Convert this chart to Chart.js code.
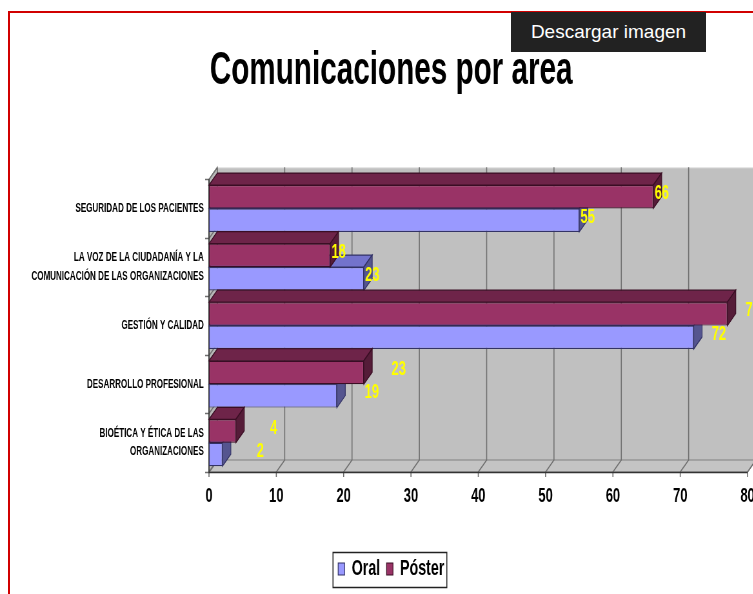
<!DOCTYPE html>
<html>
<head>
<meta charset="utf-8">
<title>Comunicaciones por area</title>
<script src="https://cdn.jsdelivr.net/npm/chart.js@4.4.1/dist/chart.umd.min.js"></script>
<style>
    html, body { margin: 0; padding: 0; background: #fff; overflow: hidden; }
    .frame {
        position: absolute; left: 8px; top: 11px; width: 745px; height: 583px;
        border-left: 2px solid #d10000; border-top: 2px solid #d10000;
    }
    /* the original picture is squeezed sideways, so the chart is drawn wide and scaled down */
    .chart-box {
        position: absolute; left: 0; top: 0; width: 1168px; height: 594px;
        transform: scaleX(0.645); transform-origin: 0 0;
    }
    .download {
        position: absolute; left: 511px; top: 12px; width: 195px; height: 40px;
        background: #222; color: #fff; text-align: center;
        font: 19px 'Liberation Sans', Arial, sans-serif;
        line-height: 40px;
    }
</style>
</head>
<body>
<div class="frame"></div>
<div class="chart-box"><canvas id="areaChart"></canvas></div>
<div class="download">Descargar imagen</div>
<script>
// Data
const areas = [
    ['SEGURIDAD DE LOS PACIENTES'],
    ['LA VOZ DE LA CIUDADANÍA Y LA', 'COMUNICACIÓN DE LAS ORGANIZACIONES'],
    ['GESTIÓN Y CALIDAD'],
    ['DESARROLLO PROFESIONAL'],
    ['BIOÉTICA Y ÉTICA DE LAS', 'ORGANIZACIONES']
];
const oralValues = [55, 23, 72, 19, 2];
const posterValues = [66, 18, 77, 23, 4];
const xTicks = [0, 10, 20, 30, 40, 50, 60, 70, 80];

const font = "'Liberation Sans', Arial, sans-serif";
const DX = 13, DY = 12;

function poly(ctx, pts, fill, stroke) {
    ctx.beginPath();
    ctx.moveTo(pts[0][0], pts[0][1]);
    for (let i = 1; i < pts.length; i++) ctx.lineTo(pts[i][0], pts[i][1]);
    ctx.closePath();
    ctx.fillStyle = fill;
    ctx.fill();
    if (stroke) { ctx.strokeStyle = stroke; ctx.lineWidth = 1.2; ctx.stroke(); }
}

// walls, floor, grid, 3D faces and value labels
const wall3d = {
    id: 'wall3d',
    beforeDatasetsDraw(chart) {
        const { ctx, chartArea: a, scales: { x, y } } = chart;
        ctx.save();
        poly(ctx, [[a.left + DX, a.top - DY], [a.right + DX, a.top - DY], [a.right + DX, a.bottom - DY], [a.left + DX, a.bottom - DY]], '#c0c0c0');
        poly(ctx, [[a.left, a.top], [a.left + DX, a.top - DY], [a.left + DX, a.bottom - DY], [a.left, a.bottom]], '#b8b8b8', '#808080');
        poly(ctx, [[a.left, a.bottom], [a.left + DX, a.bottom - DY], [a.right + DX, a.bottom - DY], [a.right, a.bottom]], '#c4c4c4', '#808080');
        ctx.strokeStyle = '#ececec';
        ctx.lineWidth = 1;
        ctx.beginPath();
        ctx.moveTo(a.left + DX, a.top - DY + 0.5);
        ctx.lineTo(a.right + DX, a.top - DY + 0.5);
        ctx.stroke();
        ctx.strokeStyle = '#707070';
        ctx.lineWidth = 1.6;
        xTicks.forEach(v => {
            const px = x.getPixelForValue(v);
            ctx.beginPath();
            ctx.moveTo(px + DX, a.top - DY);
            ctx.lineTo(px + DX, a.bottom - DY);
            ctx.lineTo(px, a.bottom);
            ctx.lineTo(px, a.bottom + 5);
            ctx.stroke();
        });
        for (let i = 0; i <= areas.length; i++) {
            const py = Math.round(y.getPixelForValue(i - 0.5)) + 0.5;
            ctx.beginPath();
            ctx.moveTo(a.left + DX, py - DY);
            ctx.lineTo(a.left, py);
            ctx.lineTo(a.left - 6, py);
            ctx.stroke();
        }
        ctx.strokeStyle = '#333';
        ctx.lineWidth = 1.6;
        ctx.beginPath();
        ctx.moveTo(a.left, a.top);
        ctx.lineTo(a.left, a.bottom + 0.5);
        ctx.lineTo(a.right, a.bottom + 0.5);
        ctx.stroke();
        ctx.restore();
    },
    afterDatasetDraw(chart, args) {
        const { ctx } = chart;
        const ds = chart.data.datasets[args.index];
        ctx.save();
        args.meta.data.forEach(bar => {
            const p = bar.getProps(['x', 'y', 'base', 'height'], true);
            const top = p.y - p.height / 2, bottom = p.y + p.height / 2;
            poly(ctx, [[p.base, top], [p.base + DX, top - DY], [p.x + DX, top - DY], [p.x, top]], ds.topColor, ds.borderColor);
            poly(ctx, [[p.x, top], [p.x + DX, top - DY], [p.x + DX, bottom - DY], [p.x, bottom]], ds.sideColor, ds.borderColor);
        });
        ctx.restore();
    },
    afterDatasetsDraw(chart, args, opts) {
        const { ctx } = chart;
        ctx.save();
        ctx.fillStyle = '#ffff00';
        ctx.font = 'bold 20px ' + font;
        ctx.textBaseline = 'middle';
        ctx.textAlign = 'left';
        chart.data.datasets.forEach((ds, di) => {
            chart.getDatasetMeta(di).data.forEach((bar, i) => {
                const p = bar.getProps(['x', 'y'], true);
                ctx.fillText(ds.data[i], p.x + opts.shift[i], p.y - 3);
            });
        });
        ctx.restore();
    },
    afterLayout(chart) {
        chart.titleBlock.left += 27; chart.titleBlock.right += 27;
        chart.legend.left += 27; chart.legend.right += 27;
    },
    afterDraw(chart) {
        const boxes = chart.legend.legendHitBoxes;
        if (!boxes || !boxes.length) return;
        const l = Math.min(...boxes.map(b => b.left)) - 8;
        const r = Math.max(...boxes.map(b => b.left + b.width)) + 4;
        const t = Math.min(...boxes.map(b => b.top)) - 6;
        const btm = Math.max(...boxes.map(b => b.top + b.height)) + 7;
        const ctx = chart.ctx;
        ctx.save();
        ctx.strokeStyle = '#222';
        ctx.lineWidth = 1.5;
        ctx.strokeRect(l, Math.round(t) + 0.5, r - l, Math.round(btm - t));
        ctx.restore();
    }
};

const ctx = document.getElementById('areaChart').getContext('2d');
new Chart(ctx, {
    type: 'bar',
    data: {
        labels: areas,
        datasets: [{
            label: 'Póster',
            data: posterValues,
            backgroundColor: '#993366',
            topColor: '#6e2449',
            sideColor: '#551c38',
            borderColor: '#3a0e24',
            borderWidth: 1.2,
            borderSkipped: false
        }, {
            label: 'Oral',
            data: oralValues,
            backgroundColor: '#9999ff',
            topColor: '#7373cc',
            sideColor: '#55558f',
            borderColor: '#333366',
            borderWidth: 1.2,
            borderSkipped: false
        }]
    },
    options: {
        indexAxis: 'y',
        responsive: true,
        maintainAspectRatio: false,
        animation: false,
        layout: { padding: { left: 0, right: 9, top: 0, bottom: 4 } },
        datasets: {
            bar: { categoryPercentage: 0.8, barPercentage: 1 }
        },
        scales: {
            x: {
                min: 0, max: 80,
                grid: { display: false, drawTicks: false },
                border: { display: false },
                ticks: {
                    stepSize: 10, padding: 12, color: '#000',
                    font: { family: font, size: 20, weight: 'bold' }
                },
                afterFit: s => { s.height = 76; s.paddingLeft = 0; s.paddingRight = 0; }
            },
            y: {
                grid: { display: false, drawTicks: false },
                border: { display: false },
                ticks: {
                    padding: 8, color: '#000',
                    font: { family: font, size: 12.5, weight: 'bold', lineHeight: 1.46 }
                },
                afterFit: s => { s.width = 324; }
            }
        },
        plugins: {
            title: {
                display: true,
                text: 'Comunicaciones por area',
                color: '#000',
                font: { family: font, size: 46, weight: 'bold', lineHeight: 1.2 },
                padding: { top: 44, bottom: 80 }
            },
            legend: {
                position: 'bottom',
                reverse: true,
                labels: {
                    color: '#000',
                    boxWidth: 10, boxHeight: 12, padding: 10,
                    font: { family: font, size: 22, weight: 'bold' }
                }
            },
            tooltip: { enabled: false },
            wall3d: { shift: [2, 2, 28, 43, 53] }
        }
    },
    plugins: [wall3d]
});
</script>
</body>
</html>
